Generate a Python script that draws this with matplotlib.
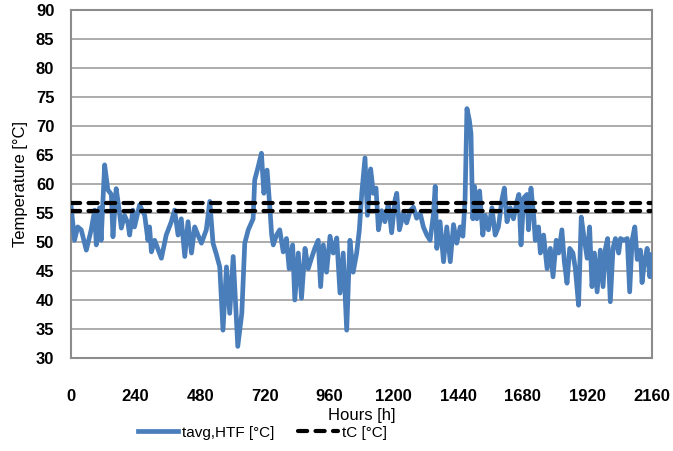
import matplotlib
matplotlib.use('Agg')
import matplotlib.pyplot as plt
import numpy as np

plt.rcParams['font.family'] = ['Liberation Sans Narrow', 'Liberation Sans', 'DejaVu Sans']

# hourly average HTF temperature (read at turning points)
hours = [0, 13, 25, 38, 57, 75, 88, 94, 106, 112, 125, 137, 150, 156, 168, 178, 187, 199,
         212, 218, 230, 236, 255, 274, 286, 292, 299, 311, 323, 336, 354, 373, 385, 398,
         410, 423, 435, 448, 460, 472, 485, 503, 516, 528, 541, 553, 565, 578, 590, 603,
         620, 635, 646, 659, 677, 683, 696, 708, 717, 729, 739, 746, 752, 764, 776, 789,
         801, 811, 824, 832, 845, 857, 870, 882, 894, 907, 919, 928, 938, 950, 963, 975,
         988, 1000, 1012, 1025, 1037, 1049, 1062, 1072, 1081, 1093, 1102, 1114, 1124, 1134,
         1143, 1155, 1167, 1180, 1192, 1205, 1211, 1221, 1236, 1248, 1261, 1273, 1285, 1298,
         1310, 1323, 1335, 1347, 1354, 1360, 1372, 1385, 1397, 1410, 1422, 1434, 1447, 1457,
         1465, 1472, 1481, 1487, 1490, 1494, 1500, 1509, 1519, 1531, 1540, 1552, 1565, 1577,
         1589, 1602, 1611, 1621, 1633, 1645, 1658, 1665, 1673, 1683, 1695, 1701, 1710, 1720,
         1726, 1738, 1745, 1757, 1770, 1782, 1792, 1804, 1813, 1825, 1834, 1844, 1854, 1866,
         1875, 1887, 1897, 1906, 1919, 1928, 1937, 1946, 1956, 1968, 1978, 1987, 1995, 2005,
         2015, 2024, 2036, 2043, 2055, 2068, 2077, 2086, 2096, 2105, 2117, 2123, 2132, 2142,
         2152, 2160]
t_avg = [56.4, 50.3, 52.6, 52.1, 48.6, 52.1, 55.5, 49.5, 55.9, 50.3, 63.3, 59.0, 58.2, 50.9,
         59.2, 55.9, 52.4, 54.6, 53.2, 51.2, 55.5, 52.6, 56.4, 54.6, 50.3, 52.6, 48.3, 50.3,
         48.8, 47.2, 51.2, 53.5, 55.5, 51.2, 54.0, 47.5, 53.5, 48.1, 52.6, 51.2, 49.8, 52.1,
         57.0, 49.8, 47.8, 45.7, 34.8, 45.7, 37.7, 47.5, 32.0, 37.7, 49.8, 52.1, 54.0, 60.7,
         63.0, 65.3, 58.4, 62.4, 56.1, 51.2, 49.5, 51.2, 52.1, 48.3, 50.6, 45.4, 49.5, 40.0,
         48.1, 40.3, 48.9, 45.4, 47.2, 49.0, 50.3, 42.3, 49.5, 44.8, 51.0, 48.1, 50.7, 41.2,
         48.1, 34.8, 50.3, 44.8, 48.1, 52.1, 58.4, 64.5, 54.6, 62.6, 58.4, 59.3, 52.1, 55.4,
         53.5, 56.7, 51.6, 57.3, 58.4, 52.1, 55.0, 53.3, 55.4, 56.0, 54.1, 55.0, 52.6, 51.2,
         50.3, 54.6, 59.6, 48.9, 53.5, 46.6, 52.6, 46.6, 53.0, 49.8, 52.6, 51.0, 57.3, 73.0,
         71.0, 68.7, 61.8, 54.0, 59.6, 54.0, 58.8, 51.2, 54.6, 52.1, 55.9, 51.2, 52.6, 57.3,
         59.3, 53.5, 55.9, 54.0, 57.0, 58.2, 49.5, 57.6, 58.2, 52.1, 59.3, 54.6, 50.3, 52.6,
         48.1, 51.2, 45.4, 48.9, 44.0, 50.3, 48.1, 52.1, 46.6, 42.9, 48.9, 48.1, 45.4, 39.1,
         54.3, 51.2, 47.2, 52.6, 42.3, 48.1, 41.4, 48.6, 42.3, 48.9, 50.6, 39.7, 48.9, 50.6,
         48.1, 50.6, 50.3, 50.6, 41.4, 50.3, 52.6, 47.0, 48.6, 43.0, 46.6, 48.9, 44.0, 47.8]
# tC levels
t_c = [56.8, 55.4]

x_ticks = [0, 240, 480, 720, 960, 1200, 1440, 1680, 1920, 2160]
y_ticks = list(range(30, 95, 5))

fig = plt.figure(figsize=(6.73, 4.51), dpi=100)
ax = fig.add_axes([0.1055, 0.2062, 0.8633, 0.7716])

ax.plot(hours, t_avg, color='#4a7ebb', lw=3.4, solid_joinstyle='round',
        label='tavg,HTF [°C]', zorder=3)
for i, tc in enumerate(t_c):
    ax.plot([0, 2160], [tc, tc], color='black', lw=3.0, dashes=(2.2, 2.0),
            dash_capstyle='round', label='tC [°C]' if i == 0 else None, zorder=4)

ax.set_xlim(0, 2160)
ax.set_ylim(30, 90)
ax.set_xticks(x_ticks)
ax.set_yticks(y_ticks)
ax.tick_params(axis='both', length=0, labelsize=12)
ax.tick_params(axis='x', pad=22)
ax.tick_params(axis='y', pad=12)
for lab in ax.get_xticklabels() + ax.get_yticklabels():
    lab.set_fontweight('bold')

ax.yaxis.grid(True, color='#a6a6a6', lw=1.3)
ax.set_axisbelow(True)
for s in ax.spines.values():
    s.set_color('#8c8c8c')
    s.set_linewidth(1.5)

ax.set_xlabel('Hours [h]', fontsize=12, labelpad=3)
ax.set_ylabel('Temperature [°C]', fontsize=12, labelpad=6)

fig.legend(loc='lower center', bbox_to_anchor=(0.39, -0.005), ncol=2, frameon=False,
           fontsize=11, handlelength=2.6, columnspacing=1.6, handletextpad=0.25)

fig.savefig('out.png', dpi=100)
